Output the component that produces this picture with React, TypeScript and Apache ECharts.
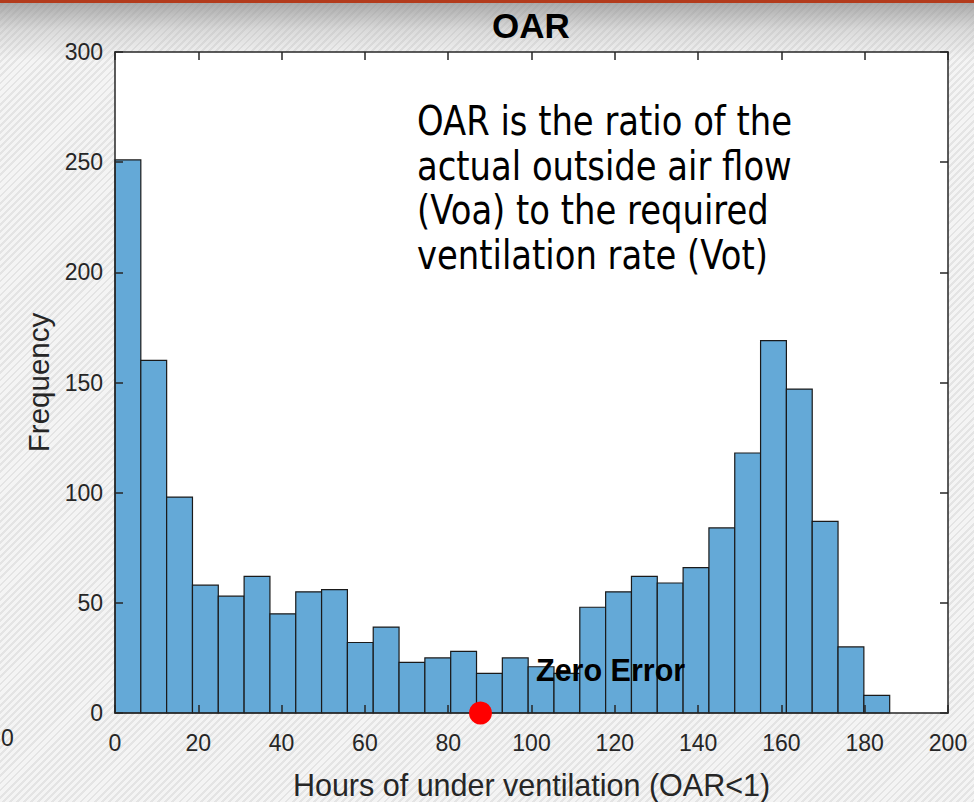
import React, { useEffect, useRef } from "react";
import * as echarts from "echarts";

// Histogram data (Hours of under ventilation, OAR<1)
const binStart = 0;
const binWidth = 6.2;
const frequencies = [
  251, 160, 98, 58, 53, 62, 45, 55, 56, 32,
  39, 23, 25, 28, 18, 25, 21, 18, 48, 55,
  62, 59, 66, 84, 118, 169, 147, 87, 30, 8,
];
const zeroErrorPoint = [87.75, 0];
const titleText = "OAR";
const xAxisName = "Hours of under ventilation (OAR<1)";
const yAxisName = "Frequency";
const noteLines = [
  "OAR is the ratio of the",
  "actual outside air flow",
  "(Voa) to the required",
  "ventilation rate (Vot)",
];
const zeroErrorLabel = "Zero Error";

const W = 974;
const H = 802;

export default function App() {
  const ref = useRef<HTMLDivElement>(null);

  useEffect(() => {
    if (!ref.current) return;
    const chart = echarts.init(ref.current, undefined, { renderer: "svg", width: W, height: H });
    const bins = frequencies.map((v, i) => [
      binStart + i * binWidth,
      binStart + (i + 1) * binWidth,
      v,
    ]);
    const axisColor = "#262626";
    const font = "'Liberation Sans', Arial, Helvetica, sans-serif";
    const xCommon = {
      type: "value",
      min: 0,
      max: 200,
      interval: 20,
      z: 5,
      splitLine: { show: false },
      axisLine: { show: true, onZero: false, lineStyle: { color: axisColor, width: 1.5 } },
      axisTick: { show: true, inside: true, length: 8, lineStyle: { color: axisColor, width: 1.5 } },
    };
    const yCommon = {
      type: "value",
      min: 0,
      max: 300,
      interval: 50,
      z: 5,
      splitLine: { show: false },
      axisLine: { show: true, onZero: false, lineStyle: { color: axisColor, width: 1.5 } },
      axisTick: { show: true, inside: true, length: 8, lineStyle: { color: axisColor, width: 1.5 } },
    };

    const graphics: any[] = noteLines.map((line, i) => ({
      type: "text",
      x: 417,
      y: 121 + i * 44.5,
      scaleX: 0.825,
      z: 10,
      style: {
        text: line,
        fill: "#000",
        font: "41px 'DejaVu Sans', Verdana, sans-serif",
        textAlign: "left",
        textVerticalAlign: "middle",
      },
    }));
    graphics.push({
      type: "text",
      x: 536,
      y: 670,
      z: 10,
      style: {
        text: zeroErrorLabel,
        fill: "#000",
        font: "bold 30.5px " + font,
        textAlign: "left",
        textVerticalAlign: "middle",
      },
    });
    graphics.push({
      type: "text",
      x: 7.5,
      y: 738,
      z: 10,
      style: {
        text: "0",
        fill: axisColor,
        font: "23px " + font,
        textAlign: "center",
        textVerticalAlign: "middle",
      },
    });

    chart.setOption({
      animation: false,
      backgroundColor: "transparent",
      textStyle: { fontFamily: font },
      title: {
        text: titleText,
        left: 526,
        top: 3,
        textAlign: "center",
        textStyle: { fontSize: 35, fontWeight: "bold", color: "#000", fontFamily: font },
      },
      grid: {
        left: 115,
        right: W - 948,
        top: 52,
        bottom: H - 713,
        outerBoundsMode: "none",
        containLabel: false,
        show: true,
        backgroundColor: "#ffffff",
        borderWidth: 0,
      },
      xAxis: [
        {
          ...xCommon,
          position: "bottom",
          name: xAxisName,
          nameLocation: "middle",
          nameGap: 56,
          nameTextStyle: { fontSize: 30.5, color: axisColor, fontFamily: font },
          axisLabel: { show: true, fontSize: 23, color: axisColor, margin: 18, fontFamily: font },
        },
        {
          ...xCommon,
          position: "top",
          axisLabel: { show: false },
        },
      ],
      yAxis: [
        {
          ...yCommon,
          position: "left",
          name: yAxisName,
          nameLocation: "middle",
          nameGap: 62,
          nameTextStyle: { fontSize: 29.5, color: axisColor, fontFamily: font },
          axisLabel: { show: true, fontSize: 23, color: axisColor, margin: 12, fontFamily: font },
        },
        {
          ...yCommon,
          position: "right",
          axisLabel: { show: false },
        },
      ],
      series: [
        {
          type: "custom",
          xAxisIndex: 0,
          yAxisIndex: 0,
          clip: false,
          encode: { x: [0, 1], y: 2 },
          data: bins,
          renderItem: (params: any, api: any) => {
            const x0 = api.value(0);
            const x1 = api.value(1);
            const v = api.value(2);
            const p0 = api.coord([x0, v]);
            const p1 = api.coord([x1, 0]);
            return {
              type: "rect",
              shape: { x: p0[0], y: p0[1], width: p1[0] - p0[0], height: p1[1] - p0[1] },
              style: { fill: "#64a9d7", stroke: "#1a1a1a", lineWidth: 1.2 },
            };
          },
        },
        {
          type: "scatter",
          xAxisIndex: 0,
          yAxisIndex: 0,
          z: 8,
          clip: false,
          symbol: "circle",
          symbolSize: 23,
          itemStyle: { color: "#ff0000", opacity: 1 },
          data: [zeroErrorPoint],
        },
      ],
      graphic: graphics,
    });
    return () => chart.dispose();
  }, []);

  return (
    <div
      style={{
        position: "absolute",
        left: 0,
        top: 0,
        width: W,
        height: H,
        overflow: "hidden",
        background:
          "linear-gradient(to bottom, rgba(140,140,140,0.75) 0px, rgba(170,170,170,0.35) 30px, rgba(200,200,200,0) 60px), repeating-linear-gradient(135deg, #f4f4f4 0px, #f4f4f4 3px, #e4e4e4 3px, #e4e4e4 5px)",
      }}
    >
      <div
        style={{
          position: "absolute",
          left: 0,
          top: 0,
          width: W,
          height: 3,
          background: "#b33b1c",
        }}
      />
      <div ref={ref} style={{ position: "absolute", left: 0, top: 0, width: W, height: H }} />
    </div>
  );
}
